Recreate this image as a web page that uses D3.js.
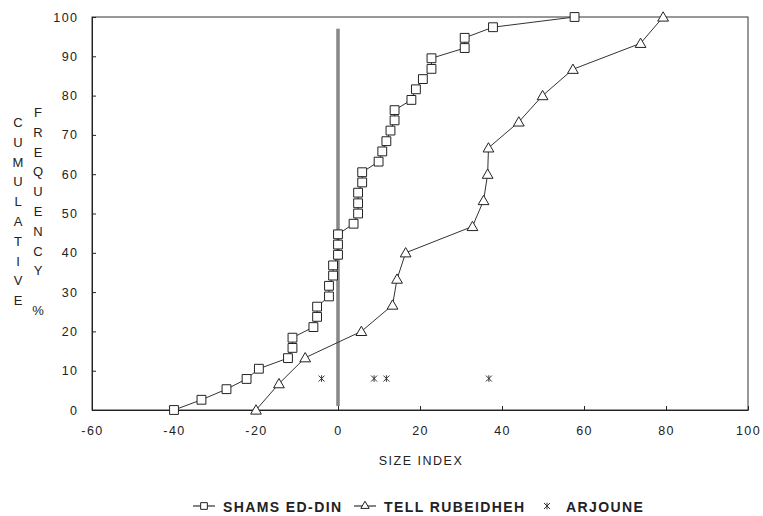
<!DOCTYPE html>
<html>
<head>
<meta charset="utf-8">
<script src="https://cdn.jsdelivr.net/npm/d3@7"></script>
<style>
  body { margin: 0; background: #fff; }
  svg text { font-family: "Liberation Sans", Arial, sans-serif; fill: #222; }
</style>
</head>
<body>
<div id="chart"></div>
<script>
// Shams Ed-Din: size index vs cumulative frequency %
const shamsX = [-40, -33.3, -27.2, -22.3, -19.3, -12.2, -11.1, -11.1, -6.0, -5.1, -5.1, -2.2, -2.2,
  -1.2, -1.2, 0, 0, 0, 3.8, 4.9, 4.9, 4.9, 5.9, 5.9, 9.9, 10.8, 11.8, 12.8, 13.8, 13.8,
  17.9, 19.0, 20.7, 22.8, 22.8, 30.9, 30.9, 37.8, 57.7];
const shamsY = [0, 2.6, 5.3, 7.9, 10.5, 13.2, 15.8, 18.4, 21.1, 23.7, 26.3, 28.9, 31.6,
  34.2, 36.8, 39.5, 42.1, 44.7, 47.4, 50.0, 52.6, 55.3, 57.9, 60.5, 63.2, 65.8, 68.4, 71.1, 73.7, 76.3,
  78.9, 81.6, 84.2, 86.8, 89.5, 92.1, 94.7, 97.4, 100];

// Tell Rubeidheh
const tellX = [-20, -14.4, -8, 5.7, 13.3, 14.4, 16.5, 32.8, 35.5, 36.5, 36.7, 44.1, 49.9, 57.3, 73.8, 79.3];
const tellY = [0, 6.7, 13.3, 20, 26.7, 33.3, 40, 46.7, 53.3, 60, 66.7, 73.3, 80, 86.7, 93.3, 100];

// Arjoune (plotted as a row of stars)
const arjX = [-4.0, 8.8, 11.8, 36.8];
const arjY = [8, 8, 8, 8];

// reference line at size index 0
const refLine = { x: 0, y0: 1, y1: 97 };

const xTicks = [-60, -40, -20, 0, 20, 40, 60, 80, 100];
const yTicks = [0, 10, 20, 30, 40, 50, 60, 70, 80, 90, 100];
const yLabel1 = "CUMULATIVE";
const yLabel2 = "FREQUENCY";
const seriesNames = ["SHAMS ED-DIN", "TELL RUBEIDHEH", "ARJOUNE"];

const width = 763, height = 516;
const plotL = 92, plotR = 748, plotT = 17, plotB = 410;

const svg = d3.select("#chart").append("svg")
  .attr("width", width)
  .attr("height", height);

const x = d3.scaleLinear().domain([-60, 100]).range([plotL, plotR]);
const y = d3.scaleLinear().domain([0, 100]).range([plotB, plotT]);

// frame
svg.append("rect")
  .attr("x", plotL).attr("y", plotT)
  .attr("width", plotR - plotL).attr("height", plotB - plotT)
  .attr("fill", "none").attr("stroke", "#333").attr("stroke-width", 1);

// axes, ticks pointing inwards; plain hyphen for negatives
const fmt = d => String(d);
const xAxis = svg.append("g")
  .attr("transform", `translate(0,${plotB})`)
  .call(d3.axisBottom(x).tickValues(xTicks).tickFormat(fmt)
    .tickSizeInner(-4).tickSizeOuter(0).tickPadding(16));
const yAxis = svg.append("g")
  .attr("transform", `translate(${plotL},0)`)
  .call(d3.axisLeft(y).tickValues(yTicks).tickFormat(fmt)
    .tickSizeInner(-4).tickSizeOuter(0).tickPadding(15));

[xAxis, yAxis].forEach(g => {
  g.select(".domain").attr("stroke", "#222");
  g.selectAll(".tick line").attr("stroke", "#222");
  g.selectAll(".tick text")
    .style("font-size", "12.5px")
    .style("letter-spacing", "1.4px")
    .attr("fill", "#222");
});
yAxis.selectAll(".tick text").attr("dx", "1.4px");

// axis titles
svg.append("text")
  .attr("x", 421).attr("y", 465)
  .attr("text-anchor", "middle")
  .style("font-size", "12.5px")
  .style("letter-spacing", "1.5px")
  .text("SIZE INDEX");

svg.append("g").selectAll("text")
  .data(yLabel1.split(""))
  .enter().append("text")
  .attr("x", 18)
  .attr("y", (d, i) => 127 + i * 19.8)
  .attr("text-anchor", "middle")
  .style("font-size", "13px")
  .text(d => d);

svg.append("g").selectAll("text")
  .data(yLabel2.split("").concat(["", "%"]))
  .enter().append("text")
  .attr("x", 38)
  .attr("y", (d, i) => 117 + i * 19.8)
  .attr("text-anchor", "middle")
  .style("font-size", "13px")
  .text(d => d);

// grey reference bar at 0
svg.append("line")
  .attr("x1", x(refLine.x)).attr("x2", x(refLine.x))
  .attr("y1", y(refLine.y0)).attr("y2", y(refLine.y1))
  .attr("stroke", "#666").attr("stroke-width", 3.2);
svg.append("line")
  .attr("x1", x(refLine.x)).attr("x2", x(refLine.x))
  .attr("y1", y(refLine.y0)).attr("y2", y(refLine.y1))
  .attr("stroke", "#aaa").attr("stroke-width", 1);

const line = d3.line().x(d => x(d[0])).y(d => y(d[1]));
const shams = d3.zip(shamsX, shamsY);
const tell = d3.zip(tellX, tellY);
const arj = d3.zip(arjX, arjY);

svg.append("path").datum(shams)
  .attr("d", line).attr("fill", "none").attr("stroke", "#333").attr("stroke-width", 1);
svg.append("path").datum(tell)
  .attr("d", line).attr("fill", "none").attr("stroke", "#333").attr("stroke-width", 1);

const square = d3.symbol().type(d3.symbolSquare).size(78);
const triangle = d3.symbol().type(d3.symbolTriangle).size(50);
// asterisk drawn as an X with a vertical stroke
const star = s => `M${-s},${-s}L${s},${s}M${-s},${s}L${s},${-s}M0,${-s * 1.1}L0,${s * 1.1}`;

svg.append("g").selectAll("path")
  .data(shams).enter().append("path")
  .attr("transform", d => `translate(${x(d[0])},${y(d[1])})`)
  .attr("d", square)
  .attr("fill", "#fff").attr("stroke", "#222").attr("stroke-width", 1);

svg.append("g").selectAll("path")
  .data(tell).enter().append("path")
  .attr("transform", d => `translate(${x(d[0])},${y(d[1]) + 1})`)
  .attr("d", triangle)
  .attr("fill", "#fff").attr("stroke", "#222").attr("stroke-width", 1);

svg.append("g").selectAll("path")
  .data(arj).enter().append("path")
  .attr("transform", d => `translate(${x(d[0])},${y(d[1])})`)
  .attr("d", star(3))
  .attr("fill", "none").attr("stroke", "#333").attr("stroke-width", 1);

// legend
const legend = svg.append("g").attr("transform", "translate(0,506)");
const legendItems = [
  { name: seriesNames[0], x0: 193, tx: 223, marker: d3.symbol().type(d3.symbolSquare).size(45) },
  { name: seriesNames[1], x0: 354, tx: 384, marker: d3.symbol().type(d3.symbolTriangle).size(30) },
  { name: seriesNames[2], x0: 547, tx: 566, marker: null }
];
legendItems.forEach(it => {
  if (it.marker) {
    legend.append("line")
      .attr("x1", it.x0).attr("x2", it.x0 + 22)
      .attr("y1", 0).attr("y2", 0)
      .attr("stroke", "#333").attr("stroke-width", 1.2);
    legend.append("path")
      .attr("transform", `translate(${it.x0 + 11},0)`)
      .attr("d", it.marker())
      .attr("fill", "#fff").attr("stroke", "#222");
  } else {
    legend.append("path")
      .attr("transform", `translate(${it.x0},0)`)
      .attr("d", star(3))
      .attr("fill", "none").attr("stroke", "#333");
  }
  legend.append("text")
    .attr("x", it.tx).attr("y", 5.5)
    .style("font-size", "14px")
    .style("font-weight", "bold")
    .style("letter-spacing", "1.4px")
    .text(it.name);
});
</script>
</body>
</html>
